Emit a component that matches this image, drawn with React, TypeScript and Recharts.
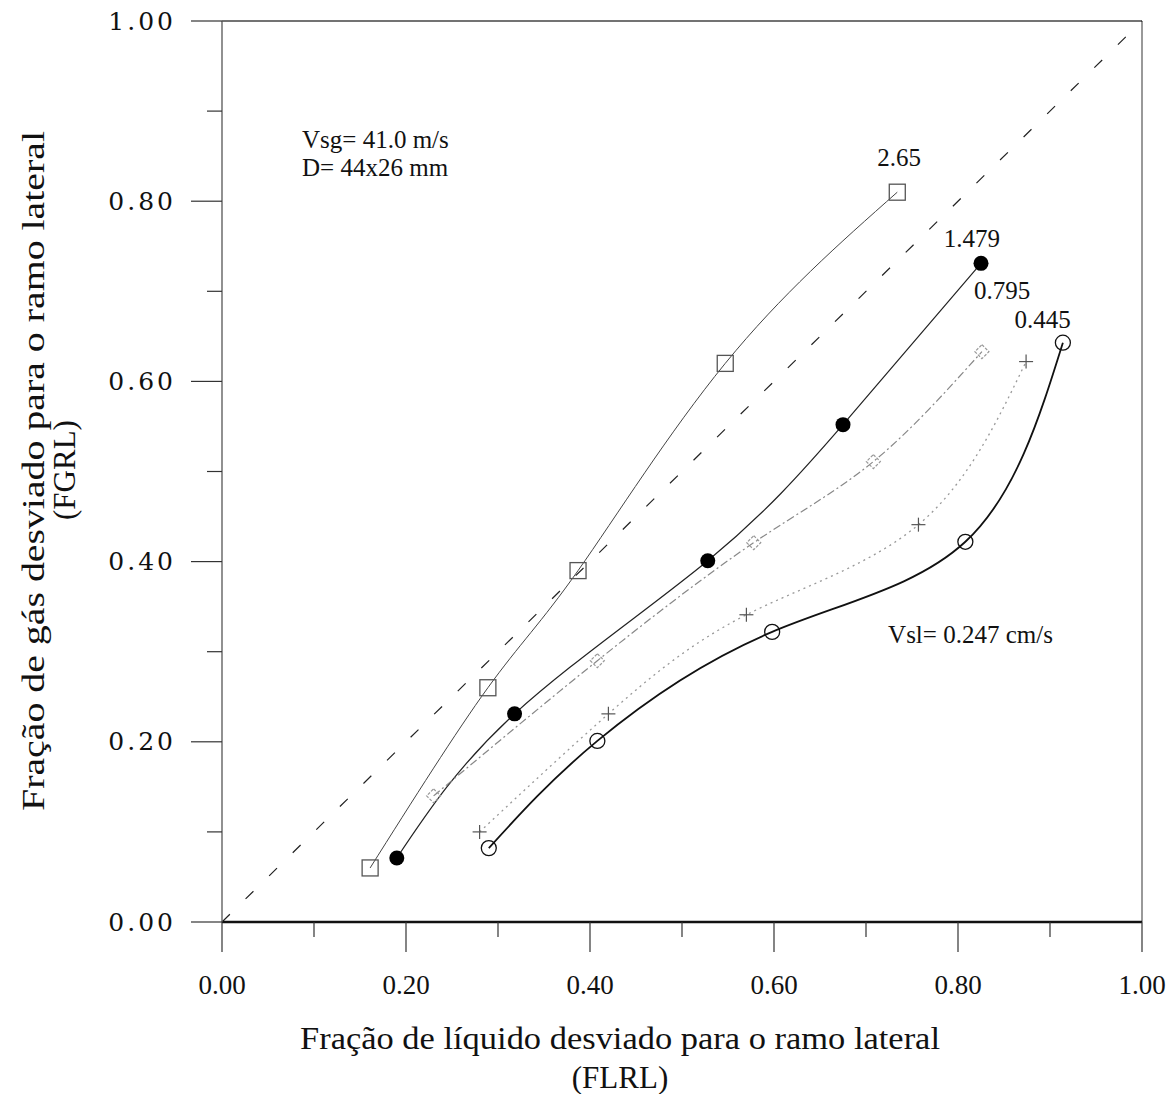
import React from "react";
import {
  ComposedChart,
  Line,
  XAxis,
  YAxis,
  ReferenceLine,
  ReferenceDot,
} from "recharts";

// axis ticks (every 0.1, labels only on the even ones)
const xTicks = [0, 0.1, 0.2, 0.3, 0.4, 0.5, 0.6, 0.7, 0.8, 0.9, 1.0];
const yTicks = [0, 0.1, 0.2, 0.3, 0.4, 0.5, 0.6, 0.7, 0.8, 0.9, 1.0];

// Vsl = 2.65 (open square)
const s265X = [0.161, 0.289, 0.387, 0.547, 0.734];
const s265Y = [0.06, 0.26, 0.39, 0.62, 0.81];
// Vsl = 1.479 (filled circle)
const s1479X = [0.19, 0.318, 0.528, 0.675, 0.825];
const s1479Y = [0.071, 0.231, 0.401, 0.552, 0.731];
// Vsl = 0.795 (diamond)
const s0795X = [0.23, 0.408, 0.578, 0.708, 0.826];
const s0795Y = [0.14, 0.29, 0.421, 0.511, 0.633];
// Vsl = 0.445 (plus)
const s0445X = [0.28, 0.42, 0.57, 0.757, 0.874];
const s0445Y = [0.1, 0.231, 0.341, 0.441, 0.622];
// Vsl = 0.247 (open circle)
const s0247X = [0.29, 0.408, 0.598, 0.808, 0.914];
const s0247Y = [0.082, 0.201, 0.322, 0.422, 0.643];

const zip = (xs: number[], ys: number[]) => xs.map((x, i) => ({ x, y: ys[i] }));

const FONT = "'Liberation Serif', 'Times New Roman', serif";
const YFONT = "'DejaVu Serif', serif";

const W = 1166;
const H = 1086;

const XTick = (props: any) => {
  const { x, y, payload } = props;
  const major = Math.round(payload.value * 10) % 2 === 0;
  return (
    <g>
      <line x1={x} x2={x} y1={y} y2={y + (major ? 30 : 15)} stroke="#333" strokeWidth={1.2} />
      {major && (
        <text x={x} y={y + 63} textAnchor="middle" dominantBaseline="central" fontFamily={FONT} fontSize={27} fill="#111">
          {payload.value.toFixed(2)}
        </text>
      )}
    </g>
  );
};

const YTick = (props: any) => {
  const { x, y, payload } = props;
  const major = Math.round(payload.value * 10) % 2 === 0;
  return (
    <g>
      <line x1={x} x2={x - (major ? 31 : 15)} y1={y} y2={y} stroke="#333" strokeWidth={1.2} />
      {major && (
        <text x={x - 46} y={y} textAnchor="end" dominantBaseline="central" fontFamily={YFONT} fontSize={25} letterSpacing={3} fill="#111">
          {payload.value.toFixed(2)}
        </text>
      )}
    </g>
  );
};

const squareDot = (p: any) => (
  <rect key={`sq-${p.index}`} x={p.cx - 8} y={p.cy - 8} width={16} height={16} fill="none" stroke="#555" strokeWidth={1.3} />
);
const filledDot = (p: any) => <circle key={`fc-${p.index}`} cx={p.cx} cy={p.cy} r={7.5} fill="#000" />;
const diamondDot = (p: any) => (
  <polygon
    key={`dm-${p.index}`}
    points={`${p.cx},${p.cy - 7} ${p.cx + 7},${p.cy} ${p.cx},${p.cy + 7} ${p.cx - 7},${p.cy}`}
    fill="none"
    stroke="#999"
    strokeWidth={1.2}
    strokeDasharray="3 1.5"
  />
);
const plusDot = (p: any) => (
  <g key={`pl-${p.index}`}>
    <line x1={p.cx - 7} x2={p.cx + 7} y1={p.cy} y2={p.cy} stroke="#555" strokeWidth={1.2} />
    <line x1={p.cx} x2={p.cx} y1={p.cy - 7} y2={p.cy + 7} stroke="#555" strokeWidth={1.2} />
  </g>
);
const openDot = (p: any) => (
  <circle key={`oc-${p.index}`} cx={p.cx} cy={p.cy} r={7.5} fill="none" stroke="#111" strokeWidth={1.3} />
);

// text placed in data space
const note = (text: string, anchor: "start" | "middle" = "middle") => (p: any) => (
  <text x={p.cx} y={p.cy} textAnchor={anchor} dominantBaseline="central" fontFamily={FONT} fontSize={25} fill="#111">
    {text}
  </text>
);

export default function App() {
  return (
    <div style={{ position: "relative", width: W, height: H }}>
      <ComposedChart width={W} height={H} margin={{ top: 13, right: 32, bottom: 92, left: 114 }}>
        <XAxis
          type="number"
          dataKey="x"
          domain={[0, 1]}
          ticks={xTicks}
          interval={0}
          tick={<XTick />}
          tickLine={false}
          tickSize={0}
          tickMargin={0}
          height={80}
          axisLine={{ stroke: "#111", strokeWidth: 2.5 }}
        />
        <YAxis
          type="number"
          dataKey="y"
          domain={[0, 1]}
          ticks={yTicks}
          interval={0}
          tick={<YTick />}
          tickLine={false}
          tickSize={0}
          tickMargin={0}
          width={100}
          axisLine={{ stroke: "#555", strokeWidth: 1.3 }}
        />
        <ReferenceLine y={1} stroke="#444" strokeWidth={1.3} />
        <ReferenceLine x={1} stroke="#555" strokeWidth={1.2} />
        <ReferenceLine
          segment={[
            { x: 0, y: 0 },
            { x: 1, y: 1 },
          ]}
          stroke="#222"
          strokeWidth={1.2}
          strokeDasharray="11 22"
        />

        <Line data={zip(s265X, s265Y)} dataKey="y" type="natural" stroke="#444" strokeWidth={1} dot={squareDot} activeDot={false} isAnimationActive={false} />
        <Line data={zip(s1479X, s1479Y)} dataKey="y" type="natural" stroke="#222" strokeWidth={1.2} dot={filledDot} activeDot={false} isAnimationActive={false} />
        <Line data={zip(s0795X, s0795Y)} dataKey="y" type="natural" stroke="#888" strokeWidth={1.2} strokeDasharray="8 3 2 3" dot={diamondDot} activeDot={false} isAnimationActive={false} />
        <Line data={zip(s0445X, s0445Y)} dataKey="y" type="natural" stroke="#999" strokeWidth={1.3} strokeDasharray="2 4" dot={plusDot} activeDot={false} isAnimationActive={false} />
        <Line data={zip(s0247X, s0247Y)} dataKey="y" type="natural" stroke="#111" strokeWidth={1.8} dot={openDot} activeDot={false} isAnimationActive={false} />

        <ReferenceDot x={0.087} y={0.868} r={0} shape={note("Vsg= 41.0 m/s", "start")} />
        <ReferenceDot x={0.087} y={0.837} r={0} shape={note("D= 44x26 mm", "start")} />
        <ReferenceDot x={0.736} y={0.849} r={0} shape={note("2.65")} />
        <ReferenceDot x={0.815} y={0.759} r={0} shape={note("1.479")} />
        <ReferenceDot x={0.848} y={0.701} r={0} shape={note("0.795")} />
        <ReferenceDot x={0.892} y={0.669} r={0} shape={note("0.445")} />
        <ReferenceDot x={0.724} y={0.319} r={0} shape={note("Vsl= 0.247 cm/s", "start")} />
      </ComposedChart>

      <svg width={W} height={H} style={{ position: "absolute", left: 0, top: 0, pointerEvents: "none" }}>
        <g fontFamily={FONT} fontSize={31} fill="#111" textAnchor="middle">
          <text x={612} y={1030} dominantBaseline="central" textLength={640} lengthAdjust="spacingAndGlyphs">
            Fração de líquido desviado para o ramo lateral
          </text>
          <text x={612} y={1069} dominantBaseline="central">(FLRL)</text>
          <text
            x={25}
            y={463}
            dominantBaseline="central"
            textLength={680}
            lengthAdjust="spacingAndGlyphs"
            transform="rotate(-90 25 463)"
          >
            Fração de gás desviado para o ramo lateral
          </text>
          <text x={56} y={462} dominantBaseline="central" transform="rotate(-90 56 462)">
            (FGRL)
          </text>
        </g>
      </svg>
    </div>
  );
}
